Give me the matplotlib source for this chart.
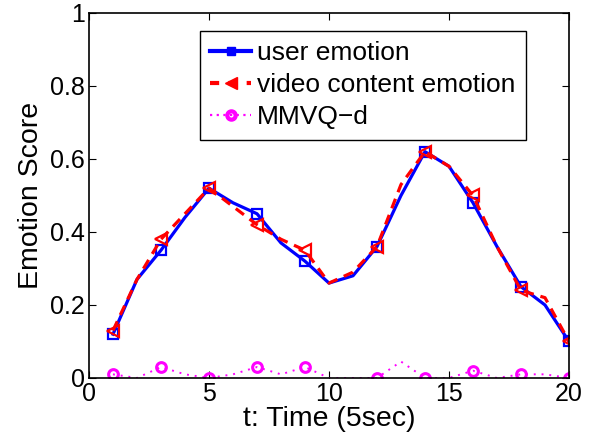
import matplotlib

matplotlib.use("Agg")
import matplotlib.pyplot as plt
from matplotlib.lines import Line2D

plt.rcParams["font.family"] = ["Liberation Sans", "DejaVu Sans"]

t = list(range(1, 21))
user_emotion = [0.12, 0.27, 0.35, 0.44, 0.52, 0.48, 0.45, 0.37, 0.32, 0.26,
                0.28, 0.36, 0.50, 0.62, 0.58, 0.48, 0.36, 0.25, 0.20, 0.10]
video_emotion = [0.13, 0.27, 0.38, 0.45, 0.52, 0.47, 0.42, 0.38, 0.35, 0.26,
                 0.29, 0.36, 0.53, 0.62, 0.58, 0.50, 0.36, 0.24, 0.22, 0.10]
mmvq_d = [0.01, 0.00, 0.03, 0.01, 0.00, 0.01, 0.03, 0.01, 0.03, 0.00,
          0.00, 0.00, 0.045, 0.00, 0.00, 0.02, 0.00, 0.01, 0.01, 0.00]
marker_idx = [0, 2, 4, 6, 8, 11, 13, 15, 17, 19]
labels = ["user emotion", "video content emotion", "MMVQ\u2212d"]

fig = plt.figure(figsize=(5.98, 4.45), dpi=100)
ax = fig.add_axes([0.1488, 0.1506, 0.8027, 0.8202])

ax.plot(t, user_emotion, "-s", color="blue", lw=2.3, ms=6.5, mfc="none", mew=1.6,
        markevery=marker_idx)
ax.plot(t, video_emotion, "--<", color="red", lw=2.3, ms=9, mfc="none", mew=1.6,
        markevery=marker_idx, dashes=(3.2, 2.2))
ax.plot(t, mmvq_d, color="magenta", lw=1.4, ls=(0, (1, 3)), marker="o", ms=7,
        mfc="none", mew=2.2, markevery=marker_idx)

ax.set_xlim(0, 20)
ax.set_ylim(0, 1)
ax.set_xticks([0, 5, 10, 15, 20])
ax.set_yticks([0, 0.2, 0.4, 0.6, 0.8, 1])
ax.set_yticklabels(["0", "0.2", "0.4", "0.6", "0.8", "1"])
ax.tick_params(direction="in", top=True, right=True, labelsize=18, length=5, pad=3)
for s in ax.spines.values():
    s.set_linewidth(1.2)

ax.set_xlabel("t: Time (5sec)", fontsize=20.5, labelpad=0)
ax.set_ylabel("Emotion Score", fontsize=20.5, labelpad=4)

# legend markers are drawn filled, like the original
handles = [
    Line2D([], [], color="blue", lw=3, marker="s", ms=6, mfc="blue"),
    Line2D([], [], color="red", lw=3, ls="--", dashes=(2.2, 2.2), marker="<", ms=9, mfc="red"),
    Line2D([], [], color="magenta", lw=1.6, ls=(0, (1, 2)), marker="o", ms=6, mfc="none", mew=3),
]
leg = ax.legend(handles, labels, loc="upper left", bbox_to_anchor=(0.231, 0.951),
                borderaxespad=0, fontsize=19, fancybox=False, edgecolor="black",
                framealpha=1, handlelength=1.55, handletextpad=0.2, borderpad=0.4,
                labelspacing=0.3)
leg.get_frame().set_linewidth(1.0)

fig.savefig("out.png", dpi=100)
